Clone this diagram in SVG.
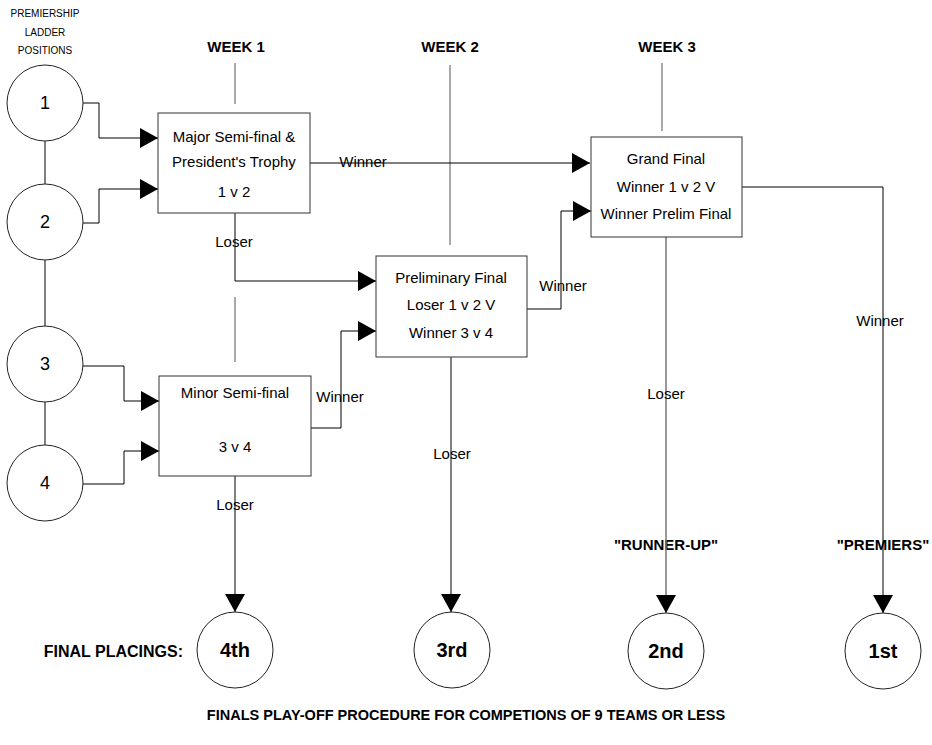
<svg xmlns="http://www.w3.org/2000/svg" width="932" height="745" viewBox="0 0 932 745">
<style>
text{font-family:"Liberation Sans",Arial,sans-serif;fill:#000;text-anchor:middle}
.b{font-weight:bold}
.lbl{font-size:15px}
.num{font-size:18px}
.pl{font-size:20px;font-weight:bold}
.small{font-size:10px}
.node{fill:#fff;stroke:#222;stroke-width:1}
.box{fill:#fff;stroke:#333;stroke-width:1}
.ln{fill:none;stroke:#000;stroke-width:1}
.gl{fill:none;stroke:#555;stroke-width:1}
.gr{fill:none;stroke:#777;stroke-width:1.5}
.arr{marker-end:url(#ah)}
</style>
<defs>
<marker id="ah" markerUnits="userSpaceOnUse" markerWidth="18" markerHeight="20" refX="18" refY="10" orient="auto" viewBox="0 0 18 20">
<path d="M0,0 L18,10 L0,20 z" fill="#000"/>
</marker>
</defs>
<rect width="932" height="745" fill="#fff"/>

<g id="headers">
<text class="small" x="45" y="17">PREMIERSHIP</text>
<text class="small" x="45" y="36">LADDER</text>
<text class="small" x="45" y="54">POSITIONS</text>
<text class="lbl b" x="236" y="52">WEEK 1</text>
<text class="lbl b" x="450" y="52">WEEK 2</text>
<text class="lbl b" x="667" y="52">WEEK 3</text>
<text class="lbl b" x="666" y="550">"RUNNER-UP"</text>
<text class="lbl b" x="883" y="550">"PREMIERS"</text>
<text class="b" style="font-size:16px;text-anchor:end" x="183" y="657">FINAL PLACINGS:</text>
<text class="b" style="font-size:14.5px" x="466" y="720">FINALS PLAY-OFF PROCEDURE FOR COMPETIONS OF 9 TEAMS OR LESS</text>
</g>

<g id="connectors">
<path class="ln" d="M45,141 V184 M45,260 V326 M45,402 V445"/>
<path class="gl" d="M235,63 V104 M235,297 V362 M450,65 V245 M662,63 V131"/>
<path class="ln arr" d="M83,103 H99 V138 H158"/>
<path class="ln arr" d="M83,223 H99 V189 H158"/>
<path class="ln arr" d="M83,366 H124 V401 H159"/>
<path class="ln arr" d="M83,484 H124 V451 H159"/>
<path class="ln arr" d="M235,213 V281 H376"/>
<path class="ln arr" d="M310,163 H590"/>
<path class="ln arr" d="M311,428 H341 V331 H376"/>
<path class="ln arr" d="M235,476 V612"/>
<path class="ln arr" d="M527,309 H561 V211 H591"/>
<path class="ln arr" d="M451,357 V612"/>
<path class="ln arr" d="M742,187 H883 V613"/>
<path class="gr arr" d="M666,237 V613"/>
<text class="lbl" x="363" y="167">Winner</text>
<text class="lbl" x="234" y="247">Loser</text>
<text class="lbl" x="235" y="510">Loser</text>
<text class="lbl" x="340" y="402">Winner</text>
<text class="lbl" x="563" y="291">Winner</text>
<text class="lbl" x="452" y="459">Loser</text>
<text class="lbl" x="666" y="399">Loser</text>
<text class="lbl" x="880" y="326">Winner</text>
</g>

<g id="pos1"><circle class="node" cx="45" cy="103" r="38"/><text class="num" x="45" y="109">1</text></g>
<g id="pos2"><circle class="node" cx="45" cy="222" r="38"/><text class="num" x="45" y="228">2</text></g>
<g id="pos3"><circle class="node" cx="45" cy="364" r="38"/><text class="num" x="45" y="370">3</text></g>
<g id="pos4"><circle class="node" cx="45" cy="483" r="38"/><text class="num" x="45" y="489">4</text></g>

<g id="major-semi">
<rect class="box" x="158" y="113" width="152" height="100"/>
<text class="lbl" x="234" y="142">Major Semi-final &amp;</text>
<text class="lbl" x="234" y="167">President's Trophy</text>
<text class="lbl" x="234" y="197">1 v 2</text>
</g>
<g id="minor-semi">
<rect class="box" x="159" y="376" width="152" height="100"/>
<text class="lbl" x="235" y="398">Minor Semi-final</text>
<text class="lbl" x="235" y="452">3 v 4</text>
</g>
<g id="prelim-final">
<rect class="box" x="376" y="256" width="151" height="101"/>
<text class="lbl" x="451" y="283">Preliminary Final</text>
<text class="lbl" x="451" y="310">Loser 1 v 2 V</text>
<text class="lbl" x="451" y="338">Winner 3 v 4</text>
</g>
<g id="grand-final">
<rect class="box" x="591" y="137" width="151" height="100"/>
<text class="lbl" x="666" y="164">Grand Final</text>
<text class="lbl" x="666" y="192">Winner 1 v 2 V</text>
<text class="lbl" x="666" y="219">Winner Prelim Final</text>
</g>

<g id="place4"><circle class="node" cx="235" cy="650" r="38"/><text class="pl" x="235" y="657">4th</text></g>
<g id="place3"><circle class="node" cx="452" cy="650" r="38"/><text class="pl" x="452" y="657">3rd</text></g>
<g id="place2"><circle class="node" cx="666" cy="651" r="38"/><text class="pl" x="666" y="658">2nd</text></g>
<g id="place1"><circle class="node" cx="883" cy="651" r="38"/><text class="pl" x="883" y="658">1st</text></g>
</svg>
